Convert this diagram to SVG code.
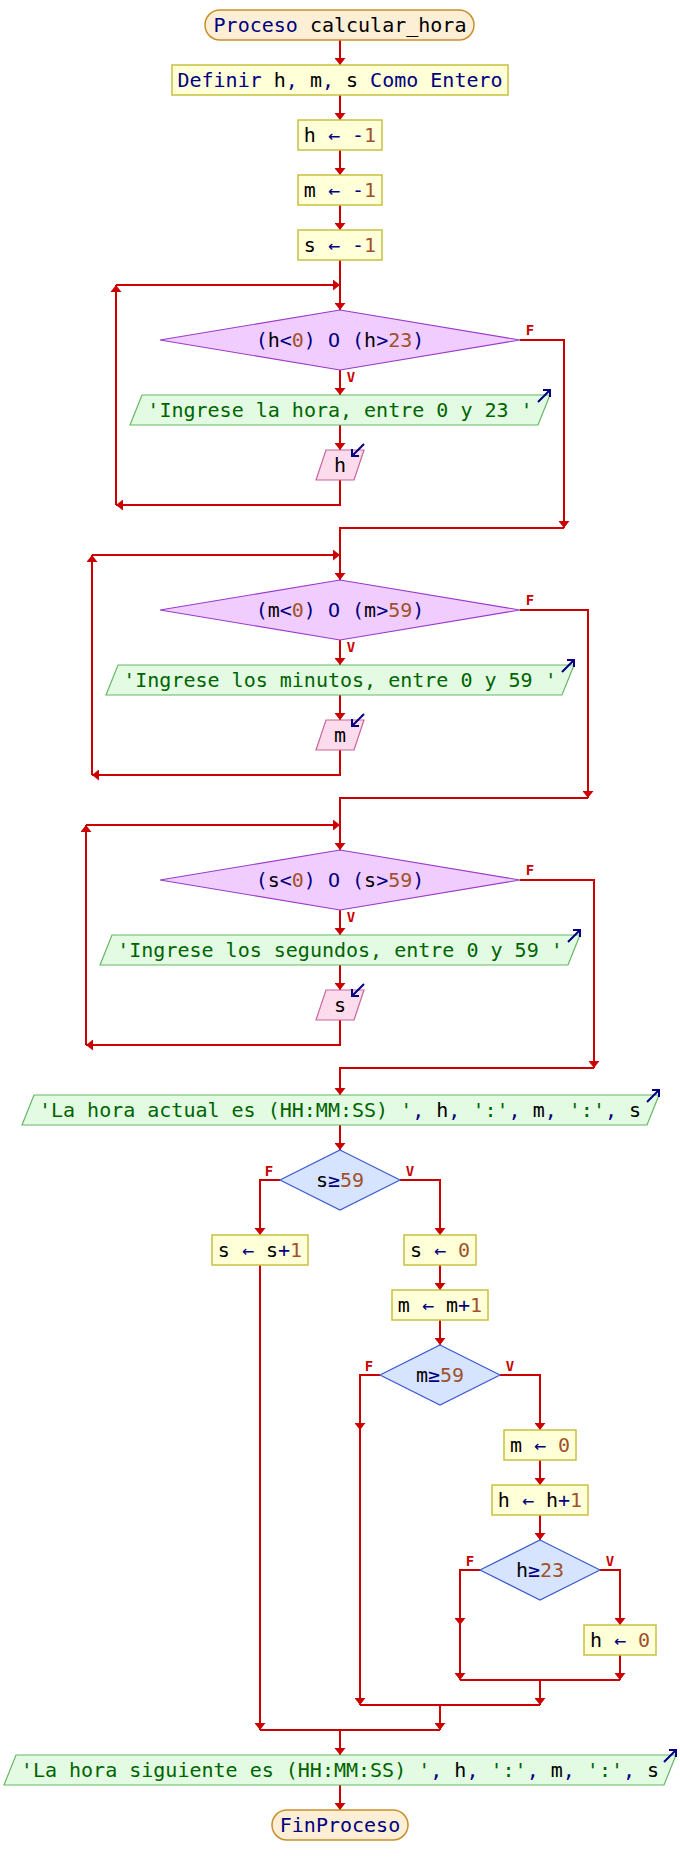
<svg xmlns="http://www.w3.org/2000/svg" width="680" height="1875" viewBox="0 0 680 1875">
<style>
.t{font-family:"DejaVu Sans Mono","Liberation Mono",monospace;font-size:20px;text-anchor:middle}
.lb{font-family:"DejaVu Sans Mono","Liberation Mono",monospace;font-size:14px;font-weight:bold;fill:#cc0000;text-anchor:middle}
.term{fill:#fdefd6;stroke:#c8902c;stroke-width:1.5}
.proc{fill:#ffffd8;stroke:#c8c040;stroke-width:1.5}
.loop{fill:#f0ccff;stroke:#9a3cc8;stroke-width:1.2}
.cond{fill:#d6e4ff;stroke:#3c5ccc;stroke-width:1.2}
.out{fill:#e2fbe2;stroke:#66b866;stroke-width:1.2}
.in{fill:#fcdcec;stroke:#c8649a;stroke-width:1.2}
.ic{fill:none;stroke:#000080;stroke-width:2}
.c{fill:none;stroke:#cc0000;stroke-width:2}
.a{marker-end:url(#ah)}
.k{fill:#000080}
.v{fill:#000000}
.n{fill:#a0522d}
.s{fill:#006400}
</style>
<defs>
<marker id="ah" viewBox="0 0 7 11" refX="7" refY="5.5" markerWidth="7" markerHeight="11" orient="auto" markerUnits="userSpaceOnUse"><path d="M0,0 L7,5.5 L0,11 z" fill="#cc0000"/></marker>
</defs>

<g id="connectors">
<path class="c a" d="M340,40 V65"/>
<path class="c a" d="M340,95 V120"/>
<path class="c a" d="M340,150 V175"/>
<path class="c a" d="M340,205 V230"/>
<path class="c a" d="M340,260 V310"/>
<!-- loop 1 -->
<path class="c a" d="M116,285 H340"/>
<path class="c a" d="M340,370 V395"/>
<path class="c a" d="M340,425 V450"/>
<path class="c a" d="M340,480 V505 H116"/>
<path class="c a" d="M116,505 V285"/>
<path class="c a" d="M520,340 H564 V528"/>
<path class="c a" d="M564,528 H340 V580"/>
<!-- loop 2 -->
<path class="c a" d="M92,555 H340"/>
<path class="c a" d="M340,640 V665"/>
<path class="c a" d="M340,695 V720"/>
<path class="c a" d="M340,750 V775 H92"/>
<path class="c a" d="M92,775 V555"/>
<path class="c a" d="M520,610 H588 V798"/>
<path class="c a" d="M588,798 H340 V850"/>
<!-- loop 3 -->
<path class="c a" d="M86,825 H340"/>
<path class="c a" d="M340,910 V935"/>
<path class="c a" d="M340,965 V990"/>
<path class="c a" d="M340,1020 V1045 H86"/>
<path class="c a" d="M86,1045 V825"/>
<path class="c a" d="M520,880 H594 V1068"/>
<path class="c a" d="M594,1068 H340 V1095"/>
<!-- if blocks -->
<path class="c a" d="M340,1125 V1150"/>
<path class="c a" d="M280,1180 H260 V1235"/>
<path class="c a" d="M400,1180 H440 V1235"/>
<path class="c a" d="M440,1265 V1290"/>
<path class="c a" d="M440,1320 V1345"/>
<path class="c a" d="M380,1375 H360 V1430"/>
<path class="c a" d="M360,1430 V1705"/>
<path class="c a" d="M500,1375 H540 V1430"/>
<path class="c a" d="M540,1460 V1485"/>
<path class="c a" d="M540,1515 V1540"/>
<path class="c a" d="M480,1570 H460 V1625"/>
<path class="c a" d="M460,1625 V1680"/>
<path class="c a" d="M600,1570 H620 V1625"/>
<path class="c a" d="M620,1655 V1680"/>
<path class="c" d="M460,1680 H620"/>
<path class="c a" d="M540,1680 V1705"/>
<path class="c" d="M360,1705 H540"/>
<path class="c a" d="M440,1705 V1730"/>
<path class="c a" d="M260,1265 V1730"/>
<path class="c" d="M260,1730 H440"/>
<path class="c a" d="M340,1730 V1755"/>
<path class="c a" d="M340,1785 V1810"/>
<!-- labels -->
<text class="lb" x="530" y="335">F</text>
<text class="lb" x="351" y="382">V</text>
<text class="lb" x="530" y="605">F</text>
<text class="lb" x="351" y="652">V</text>
<text class="lb" x="530" y="875">F</text>
<text class="lb" x="351" y="922">V</text>
<text class="lb" x="269" y="1176">F</text>
<text class="lb" x="410" y="1176">V</text>
<text class="lb" x="369" y="1371">F</text>
<text class="lb" x="510" y="1371">V</text>
<text class="lb" x="470" y="1566">F</text>
<text class="lb" x="610" y="1566">V</text>
</g>

<g id="start">
<rect class="term" x="205" y="10" width="269" height="30" rx="15"/>
<text class="t" x="340" y="32"><tspan class="k">Proceso</tspan><tspan class="v"> calcular_hora</tspan></text>
</g>
<g id="definir">
<rect class="proc" x="172" y="65" width="336" height="30"/>
<text class="t" x="340" y="87"><tspan class="k">Definir </tspan><tspan class="v">h</tspan><tspan class="k">, </tspan><tspan class="v">m</tspan><tspan class="k">, </tspan><tspan class="v">s</tspan><tspan class="k"> Como Entero</tspan></text>
</g>
<g id="h_init">
<rect class="proc" x="298" y="120" width="84" height="30"/>
<text class="t" x="340" y="142"><tspan class="v">h</tspan><tspan class="k"> ← -</tspan><tspan class="n">1</tspan></text>
</g>
<g id="m_init">
<rect class="proc" x="298" y="175" width="84" height="30"/>
<text class="t" x="340" y="197"><tspan class="v">m</tspan><tspan class="k"> ← -</tspan><tspan class="n">1</tspan></text>
</g>
<g id="s_init">
<rect class="proc" x="298" y="230" width="84" height="30"/>
<text class="t" x="340" y="252"><tspan class="v">s</tspan><tspan class="k"> ← -</tspan><tspan class="n">1</tspan></text>
</g>

<g id="loop_h">
<polygon class="loop" points="340,310 520,340 340,370 160,340"/>
<text class="t" x="340" y="347"><tspan class="k">(</tspan><tspan class="v">h</tspan><tspan class="k">&lt;</tspan><tspan class="n">0</tspan><tspan class="k">) O (</tspan><tspan class="v">h</tspan><tspan class="k">&gt;</tspan><tspan class="n">23</tspan><tspan class="k">)</tspan></text>
</g>
<g id="out_h">
<polygon class="out" points="142,395 550,395 538,425 130,425"/>
<text class="t s" x="340" y="417">'Ingrese la hora, entre 0 y 23 '</text>
<path class="ic" d="M538,402 L550,390 M543,390 H550 V397"/>
</g>
<g id="in_h">
<polygon class="in" points="326,450 364,450 354,480 316,480"/>
<text class="t v" x="340" y="472">h</text>
<path class="ic" d="M364,444 L352,456 M352,449 V456 H359"/>
</g>

<g id="loop_m">
<polygon class="loop" points="340,580 520,610 340,640 160,610"/>
<text class="t" x="340" y="617"><tspan class="k">(</tspan><tspan class="v">m</tspan><tspan class="k">&lt;</tspan><tspan class="n">0</tspan><tspan class="k">) O (</tspan><tspan class="v">m</tspan><tspan class="k">&gt;</tspan><tspan class="n">59</tspan><tspan class="k">)</tspan></text>
</g>
<g id="out_m">
<polygon class="out" points="118,665 574,665 562,695 106,695"/>
<text class="t s" x="340" y="687">'Ingrese los minutos, entre 0 y 59 '</text>
<path class="ic" d="M562,672 L574,660 M567,660 H574 V667"/>
</g>
<g id="in_m">
<polygon class="in" points="326,720 364,720 354,750 316,750"/>
<text class="t v" x="340" y="742">m</text>
<path class="ic" d="M364,714 L352,726 M352,719 V726 H359"/>
</g>

<g id="loop_s">
<polygon class="loop" points="340,850 520,880 340,910 160,880"/>
<text class="t" x="340" y="887"><tspan class="k">(</tspan><tspan class="v">s</tspan><tspan class="k">&lt;</tspan><tspan class="n">0</tspan><tspan class="k">) O (</tspan><tspan class="v">s</tspan><tspan class="k">&gt;</tspan><tspan class="n">59</tspan><tspan class="k">)</tspan></text>
</g>
<g id="out_s">
<polygon class="out" points="112,935 580,935 568,965 100,965"/>
<text class="t s" x="340" y="957">'Ingrese los segundos, entre 0 y 59 '</text>
<path class="ic" d="M568,942 L580,930 M573,930 H580 V937"/>
</g>
<g id="in_s">
<polygon class="in" points="326,990 364,990 354,1020 316,1020"/>
<text class="t v" x="340" y="1012">s</text>
<path class="ic" d="M364,984 L352,996 M352,989 V996 H359"/>
</g>

<g id="out_actual">
<polygon class="out" points="34,1095 659,1095 647,1125 22,1125"/>
<text class="t" x="340" y="1117"><tspan class="s">'La hora actual es (HH:MM:SS) '</tspan><tspan class="k">, </tspan><tspan class="v">h</tspan><tspan class="k">, </tspan><tspan class="s">':'</tspan><tspan class="k">, </tspan><tspan class="v">m</tspan><tspan class="k">, </tspan><tspan class="s">':'</tspan><tspan class="k">, </tspan><tspan class="v">s</tspan></text>
<path class="ic" d="M647,1102 L659,1090 M652,1090 H659 V1097"/>
</g>

<g id="if_s">
<polygon class="cond" points="340,1150 400,1180 340,1210 280,1180"/>
<text class="t" x="340" y="1187"><tspan class="v">s</tspan><tspan class="k">≥</tspan><tspan class="n">59</tspan></text>
</g>
<g id="s_inc">
<rect class="proc" x="212" y="1235" width="96" height="30"/>
<text class="t" x="260" y="1257"><tspan class="v">s</tspan><tspan class="k"> ← </tspan><tspan class="v">s</tspan><tspan class="k">+</tspan><tspan class="n">1</tspan></text>
</g>
<g id="s_zero">
<rect class="proc" x="404" y="1235" width="72" height="30"/>
<text class="t" x="440" y="1257"><tspan class="v">s</tspan><tspan class="k"> ← </tspan><tspan class="n">0</tspan></text>
</g>
<g id="m_inc">
<rect class="proc" x="392" y="1290" width="96" height="30"/>
<text class="t" x="440" y="1312"><tspan class="v">m</tspan><tspan class="k"> ← </tspan><tspan class="v">m</tspan><tspan class="k">+</tspan><tspan class="n">1</tspan></text>
</g>
<g id="if_m">
<polygon class="cond" points="440,1345 500,1375 440,1405 380,1375"/>
<text class="t" x="440" y="1382"><tspan class="v">m</tspan><tspan class="k">≥</tspan><tspan class="n">59</tspan></text>
</g>
<g id="m_zero">
<rect class="proc" x="504" y="1430" width="72" height="30"/>
<text class="t" x="540" y="1452"><tspan class="v">m</tspan><tspan class="k"> ← </tspan><tspan class="n">0</tspan></text>
</g>
<g id="h_inc">
<rect class="proc" x="492" y="1485" width="96" height="30"/>
<text class="t" x="540" y="1507"><tspan class="v">h</tspan><tspan class="k"> ← </tspan><tspan class="v">h</tspan><tspan class="k">+</tspan><tspan class="n">1</tspan></text>
</g>
<g id="if_h">
<polygon class="cond" points="540,1540 600,1570 540,1600 480,1570"/>
<text class="t" x="540" y="1577"><tspan class="v">h</tspan><tspan class="k">≥</tspan><tspan class="n">23</tspan></text>
</g>
<g id="h_zero">
<rect class="proc" x="584" y="1625" width="72" height="30"/>
<text class="t" x="620" y="1647"><tspan class="v">h</tspan><tspan class="k"> ← </tspan><tspan class="n">0</tspan></text>
</g>

<g id="out_siguiente">
<polygon class="out" points="16,1755 676,1755 664,1785 4,1785"/>
<text class="t" x="340" y="1777"><tspan class="s">'La hora siguiente es (HH:MM:SS) '</tspan><tspan class="k">, </tspan><tspan class="v">h</tspan><tspan class="k">, </tspan><tspan class="s">':'</tspan><tspan class="k">, </tspan><tspan class="v">m</tspan><tspan class="k">, </tspan><tspan class="s">':'</tspan><tspan class="k">, </tspan><tspan class="v">s</tspan></text>
<path class="ic" d="M664,1762 L676,1750 M669,1750 H676 V1757"/>
</g>
<g id="end">
<rect class="term" x="272" y="1810" width="136" height="30" rx="15"/>
<text class="t k" x="340" y="1832">FinProceso</text>
</g>
</svg>
